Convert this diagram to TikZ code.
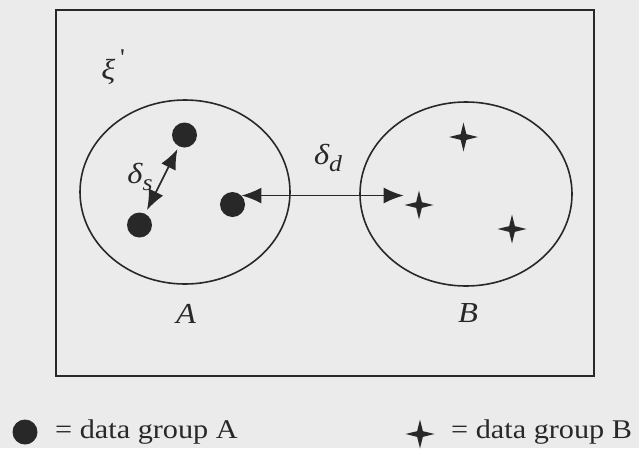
\documentclass[tikz,border=0pt]{standalone}
\usepackage{fontspec}
\setmainfont{Liberation Serif}[FakeStretch=1.12]
\usetikzlibrary{arrows.meta,shapes.geometric}
\definecolor{paper}{RGB}{235,235,235}
\definecolor{ink}{RGB}{40,40,40}
\newcommand{\clssub}[1]{\raisebox{-7pt}{\fontsize{23}{25}\selectfont #1}}

\begin{document}
\begin{tikzpicture}[
  clsframe/.style={draw=ink, line width=1.6pt},
  clsgroup/.style={draw=ink, ellipse, line width=1.6pt, inner sep=0pt},
  clsdot/.style={circle, fill=ink, inner sep=0pt, minimum size=25pt},
  clscross/.style={star, star points=4, star point ratio=3.6, fill=ink, inner sep=0pt, minimum size=29pt},
  clsedge/.style={draw=ink, line width=1.6pt,
                  {Latex[length=20pt,width=16pt]}-{Latex[length=20pt,width=16pt]}},
  clslabel/.style={font=\fontsize{29}{32}\selectfont\itshape, text=ink, inner sep=0pt},
  clslegend/.style={font=\fontsize{27}{32}\selectfont, text=ink, inner sep=0pt, anchor=base west},
]
  \fill[paper] (0pt,0pt) rectangle (639pt,-448pt);
  \useasboundingbox (0pt,0pt) rectangle (639pt,-448pt);
  \draw[clsframe] (56pt,-10pt) rectangle (594pt,-376pt);
  \node[clslabel] (xi) at (113pt,-67pt) {ξ\,\raisebox{14pt}{\fontsize{24}{26}\selectfont\upshape\textquotesingle}};
  % group A
  \node[clsgroup, minimum width=210pt, minimum height=184pt] (gA) at (185pt,-192pt) {};
  \node[clsdot] (a1) at (184.5pt,-135pt) {};
  \node[clsdot] (a2) at (139.5pt,-225pt) {};
  \node[clsdot] (a3) at (232.5pt,-204.5pt) {};
  \node[clslabel] (labA) at (186pt,-314pt) {A};
  % group B
  \node[clsgroup, minimum width=212pt, minimum height=184pt] (gB) at (466pt,-194pt) {};
  \node[clscross] (b1) at (463.5pt,-137pt) {};
  \node[clscross] (b2) at (419pt,-205pt) {};
  \node[clscross] (b3) at (512pt,-229pt) {};
  \node[clslabel] (labB) at (468pt,-313pt) {B};
  % distances
  \draw[clsedge, shorten <=3pt, shorten >=4pt] (a1) -- (a2);
  \node[clslabel] (ds) at (140pt,-177pt) {δ\clssub{s}};
  \draw[clsedge] (a3.north east) -- (a3.north east -| b2.west);
  \node[clslabel] (dd) at (328pt,-158pt) {δ\clssub{d}};
  % legend
  \node[clsdot] (keyA) at (25pt,-432pt) {};
  \node[clslegend] (txtA) at (55pt,-438pt) {= data group A};
  \node[clscross] (keyB) at (420pt,-434pt) {};
  \node[clslegend] (txtB) at (451pt,-438pt) {= data group B};
\end{tikzpicture}
\end{document}
